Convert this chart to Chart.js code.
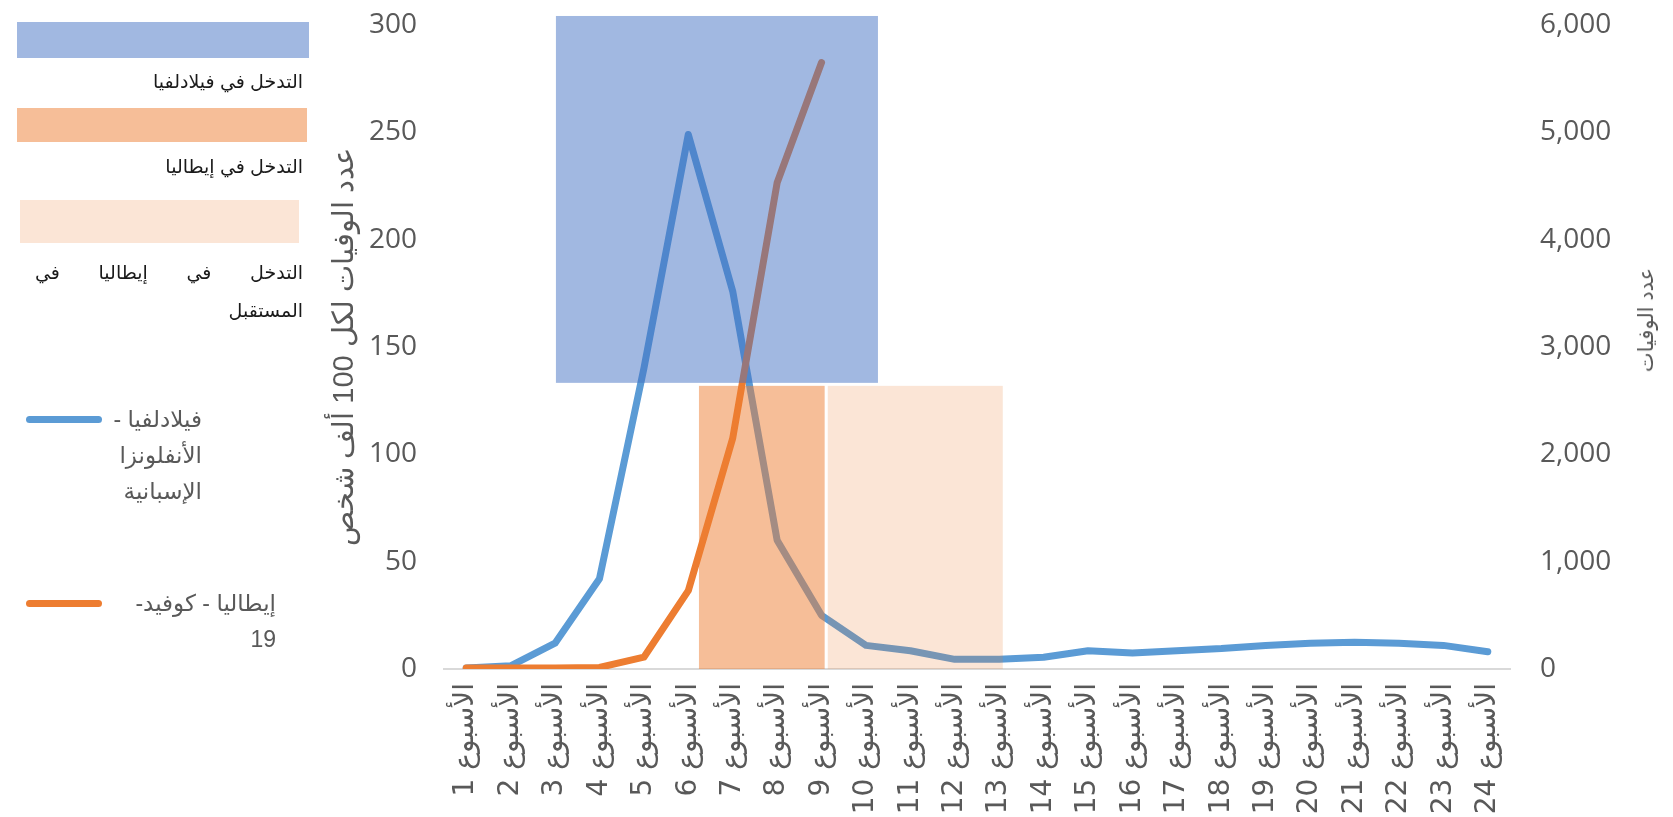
<!DOCTYPE html>
<html lang="ar">
<head>
<meta charset="utf-8">
<script src="https://cdn.jsdelivr.net/npm/chart.js@4.4.1/dist/chart.umd.min.js"></script>
<style>
  html, body { margin: 0; padding: 0; background: #fff; }
  #wrap { position: relative; width: 1673px; height: 817px; overflow: hidden; }
  #chart { position: absolute; left: 0; top: 0; }
  .swatch { position: absolute; }
  .txt { position: absolute; direction: rtl; text-align: right; white-space: nowrap;
         font-family: "Liberation Sans", "DejaVu Sans", sans-serif; }
  .shadeTxt { font-size: 19px; color: #1a1a1a; line-height: 24px; }
  .lineTxt { font-size: 23px; color: #595959; line-height: 36px; }
  .lineKey { position: absolute; height: 7px; border-radius: 4px; }
</style>
</head>
<body>
<div id="wrap">
  <canvas id="chart" width="1673" height="817" dir="rtl"></canvas>

  <!-- legend -->
  <div class="swatch" style="left:17px;top:22px;width:292px;height:36px;background:rgba(68,114,196,0.5)"></div>
  <div class="txt shadeTxt" style="right:1370px;top:70px">التدخل في فيلادلفيا</div>
  <div class="swatch" style="left:17px;top:108px;width:290px;height:34px;background:rgba(237,125,49,0.5)"></div>
  <div class="txt shadeTxt" style="right:1370px;top:155px">التدخل في إيطاليا</div>
  <div class="swatch" style="left:20px;top:200px;width:279px;height:43px;background:rgba(237,125,49,0.2)"></div>
  <div class="txt shadeTxt" style="left:35px;width:268px;top:261px;text-align:justify;text-align-last:justify;white-space:normal">التدخل في إيطاليا في</div>
  <div class="txt shadeTxt" style="right:1370px;top:299px">المستقبل</div>

  <div class="lineKey" style="left:26px;top:416px;width:76px;background:#5B9BD5"></div>
  <div class="txt lineTxt" style="right:1471px;top:401px">فيلادلفيا -<br>الأنفلونزا<br>الإسبانية</div>
  <div class="lineKey" style="left:26px;top:600px;width:76px;background:#ED7D31"></div>
  <div class="txt lineTxt" style="right:1397px;top:585px">إيطاليا - كوفيد-<br>19</div>

  <div class="txt" id="rightTitle" style="left:1646px;top:320px;transform:translate(-50%,-50%) rotate(-90deg);font-size:21px;color:#595959">عدد الوفيات</div>
</div>

<script>
// weeks on the category axis
const weeks = ['الأسبوع 1', 'الأسبوع 2', 'الأسبوع 3', 'الأسبوع 4', 'الأسبوع 5', 'الأسبوع 6',
  'الأسبوع 7', 'الأسبوع 8', 'الأسبوع 9', 'الأسبوع 10', 'الأسبوع 11', 'الأسبوع 12',
  'الأسبوع 13', 'الأسبوع 14', 'الأسبوع 15', 'الأسبوع 16', 'الأسبوع 17', 'الأسبوع 18',
  'الأسبوع 19', 'الأسبوع 20', 'الأسبوع 21', 'الأسبوع 22', 'الأسبوع 23', 'الأسبوع 24'];

// Philadelphia 1918, deaths per 100k (left axis)
const phillyLabel = 'فيلادلفيا - الأنفلونزا الإسبانية';
const phillyRate = [0.5, 1.5, 12, 42, 140, 249, 176, 60, 25, 11, 8.5, 4.5,
  4.5, 5.5, 8.5, 7.5, 8.5, 9.5, 11, 12, 12.5, 12, 11, 8];

// Italy covid-19, deaths (right axis), weeks 1-9
const italyLabel = 'إيطاليا - كوفيد-19';
const italyDeaths = [10, 10, 10, 15, 110, 730, 2150, 4530, 5650];

// intervention periods: week span and height on the left axis
const shadeLabels = ['التدخل في فيلادلفيا', 'التدخل في إيطاليا', 'التدخل في إيطاليا في المستقبل'];
const shadeFromWeek = [3.02, 6.24, 9.14];
const shadeToWeek = [10.27, 9.07, 13.08];
const shadeLow = [133.3, 0, 0];
const shadeHigh = [304.2, 131.9, 131.9];
const shadeColors = ['rgba(68,114,196,0.5)', 'rgba(237,125,49,0.5)', 'rgba(237,125,49,0.2)'];

const leftTicks = { min: 0, max: 300, step: 50 };
const rightTicks = { min: 0, max: 6000, step: 1000 };

const shadePlugin = {
  id: 'shades',
  afterDatasetsDraw(chart) {
    const { ctx } = chart;
    const x = chart.scales.x, y = chart.scales.y;
    ctx.save();
    for (let i = 0; i < shadeLabels.length; i++) {
      const l = x.getPixelForValue(shadeFromWeek[i] - 1);
      const r = x.getPixelForValue(shadeToWeek[i] - 1);
      const t = y.getPixelForValue(shadeHigh[i]);
      const b = y.getPixelForValue(shadeLow[i]);
      ctx.fillStyle = shadeColors[i];
      ctx.fillRect(l, t, r - l, b - t);
    }
    ctx.restore();
  }
};

const tickFont = { family: '"Open Sans", "Liberation Sans", sans-serif', size: 28 };
const arFont = '"DejaVu Sans", sans-serif';

// fixed axis box, no extra tick-label padding pushed into the layout
function fixVertical(width) {
  return (s) => { s.width = width; s.paddingTop = 0; s.paddingBottom = 0; };
}

new Chart(document.getElementById('chart'), {
  type: 'line',
  data: {
    labels: weeks,
    datasets: [
      {
        label: phillyLabel,
        data: phillyRate,
        yAxisID: 'y',
        borderColor: '#5B9BD5',
        borderWidth: 7,
        order: 1
      },
      {
        label: italyLabel,
        data: italyDeaths,
        yAxisID: 'y1',
        borderColor: '#ED7D31',
        borderWidth: 7,
        order: 0
      }
    ]
  },
  options: {
    responsive: false,
    animation: false,
    locale: 'en-US',
    layout: { padding: { left: 328, right: 43, top: 25, bottom: 0 } },
    elements: {
      point: { radius: 0, hoverRadius: 0 },
      line: { tension: 0, borderCapStyle: 'round', borderJoinStyle: 'round', fill: false }
    },
    plugins: { legend: { display: false }, tooltip: { enabled: false } },
    scales: {
      x: {
        offset: true,
        grid: { display: false, drawTicks: false },
        border: { display: true, color: '#D9D9D9', width: 2 },
        ticks: {
          autoSkip: false, minRotation: 90, maxRotation: 90, padding: 14,
          color: '#595959', font: { family: arFont, size: 28 }
        },
        afterFit: (s) => { s.height = 148; s.paddingLeft = 0; s.paddingRight = 0; }
      },
      y: {
        position: 'left',
        min: leftTicks.min, max: leftTicks.max,
        grid: { display: false, drawTicks: false },
        border: { display: false },
        ticks: { stepSize: leftTicks.step, padding: 27, color: '#595959', font: tickFont },
        title: {
          display: true, text: 'عدد الوفيات لكل 100 ألف شخص', color: '#595959',
          font: { family: '"Liberation Sans", sans-serif', size: 29 }, padding: 0
        },
        afterFit: fixVertical(116)
      },
      y1: {
        position: 'right',
        min: rightTicks.min, max: rightTicks.max,
        grid: { display: false, drawTicks: false },
        border: { display: false },
        ticks: { stepSize: rightTicks.step, padding: 30, color: '#595959', font: tickFont },
        afterFit: fixVertical(120)
      }
    }
  },
  plugins: [shadePlugin]
});
</script>
</body>
</html>
